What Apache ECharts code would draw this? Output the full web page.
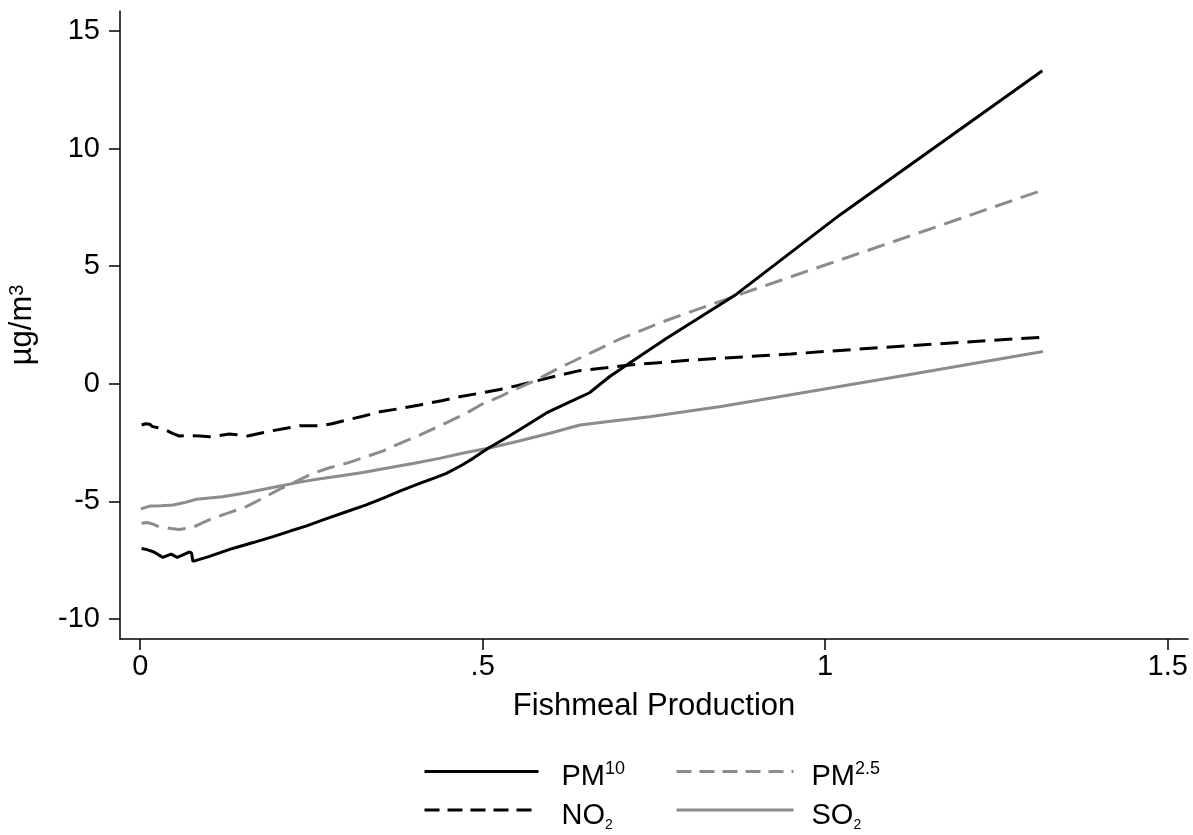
<!DOCTYPE html>
<html>
<head>
<meta charset="utf-8">
<title>Fishmeal Production</title>
<script src="https://cdn.jsdelivr.net/npm/echarts@6/dist/echarts.min.js"></script>
<style>
  html, body { margin: 0; padding: 0; background: #fff; }
  #main { width: 1193px; height: 835px; }
</style>
</head>
<body>
<div id="main"></div>
<script>
// ticks
var xTicks = [0, 0.5, 1, 1.5];
var yTicks = [-10, -5, 0, 5, 10, 15];

// [fishmeal production, µg/m3]
var pm10 = [
  [0.002, -7.00], [0.010, -7.05], [0.020, -7.15], [0.033, -7.38], [0.045, -7.24],
  [0.054, -7.38], [0.064, -7.25], [0.072, -7.15], [0.075, -7.20], [0.077, -7.55],
  [0.100, -7.35], [0.135, -7.00], [0.165, -6.75], [0.194, -6.50], [0.220, -6.25],
  [0.242, -6.05], [0.270, -5.75], [0.301, -5.44], [0.330, -5.15], [0.354, -4.87],
  [0.380, -4.55], [0.408, -4.23], [0.430, -4.00], [0.447, -3.81], [0.470, -3.45],
  [0.486, -3.17], [0.508, -2.74], [0.537, -2.25], [0.565, -1.75], [0.593, -1.24],
  [0.625, -0.80], [0.656, -0.38], [0.670, -0.05], [0.685, 0.30], [0.714, 0.87],
  [0.768, 1.93], [0.870, 3.80], [1.021, 7.17], [1.317, 13.31]
];
var pm25 = [
  [0.002, -5.93], [0.010, -5.90], [0.018, -5.96], [0.025, -6.05], [0.033, -6.10],
  [0.045, -6.15], [0.057, -6.19], [0.068, -6.15], [0.077, -6.10], [0.090, -5.92],
  [0.106, -5.72], [0.130, -5.48], [0.155, -5.22], [0.180, -4.85], [0.203, -4.49],
  [0.230, -4.12], [0.252, -3.81], [0.275, -3.58], [0.301, -3.38], [0.330, -3.10],
  [0.354, -2.86], [0.380, -2.52], [0.408, -2.18], [0.440, -1.75], [0.476, -1.25],
  [0.500, -0.85], [0.525, -0.55], [0.550, -0.20], [0.578, 0.16], [0.610, 0.65],
  [0.646, 1.15], [0.700, 1.90], [0.763, 2.64], [0.851, 3.55], [0.870, 3.75],
  [1.000, 5.05], [1.150, 6.55], [1.311, 8.17]
];
var no2 = [
  [0.002, -1.75], [0.008, -1.70], [0.014, -1.72], [0.018, -1.82], [0.028, -1.88],
  [0.038, -1.98], [0.048, -2.12], [0.057, -2.22], [0.070, -2.20], [0.087, -2.22],
  [0.101, -2.25], [0.115, -2.20], [0.130, -2.13], [0.145, -2.18], [0.157, -2.22],
  [0.175, -2.10], [0.194, -1.99], [0.215, -1.88], [0.233, -1.78], [0.262, -1.78],
  [0.280, -1.70], [0.301, -1.54], [0.325, -1.38], [0.350, -1.19], [0.380, -1.05],
  [0.408, -0.90], [0.440, -0.72], [0.466, -0.55], [0.500, -0.38], [0.525, -0.24],
  [0.550, -0.08], [0.578, 0.12], [0.610, 0.35], [0.640, 0.55], [0.680, 0.68],
  [0.715, 0.80], [0.800, 1.00], [0.950, 1.27], [1.100, 1.58], [1.316, 1.98]
];
var so2 = [
  [0.001, -5.32], [0.014, -5.20], [0.030, -5.18], [0.048, -5.15], [0.065, -5.05],
  [0.082, -4.91], [0.120, -4.80], [0.155, -4.63], [0.195, -4.40], [0.233, -4.18],
  [0.260, -4.05], [0.291, -3.92], [0.325, -3.77], [0.359, -3.59], [0.400, -3.38],
  [0.437, -3.17], [0.470, -2.95], [0.508, -2.74], [0.550, -2.45], [0.598, -2.10],
  [0.642, -1.75], [0.690, -1.58], [0.744, -1.40], [0.850, -0.95], [0.963, -0.40],
  [1.128, 0.42], [1.318, 1.37]
];

var black = '#000';
var grey = '#8c8c8c';
var font = '"Liberation Sans", Arial, Helvetica, sans-serif';

var myChart = echarts.init(document.getElementById('main'));

var legendRich = {
  b: { fontSize: 29, lineHeight: 34, fontFamily: font, color: black },
  sup: { fontSize: 18, lineHeight: 27, verticalAlign: 'top', fontFamily: font, color: black },
  sub: { fontSize: 14, lineHeight: 2, verticalAlign: 'bottom', fontFamily: font, color: black }
};
var legendLabels = {
  'PM10': '{b|PM}{sup|10}',
  'PM2.5': '{b|PM}{sup|2.5}',
  'NO2': '{b|NO}{sub|2}',
  'SO2': '{b|SO}{sub|2}'
};

// one legend per item so the two columns line up
function legendItem(name, left, top, width, padLeft, dash) {
  return {
    data: [name],
    left: left,
    top: top,
    padding: 0,
    itemWidth: width,
    itemHeight: 14,
    selectedMode: false,
    lineStyle: { type: dash, width: 3 },
    itemStyle: { opacity: 0 }, // hide the dot that line legends draw
    formatter: function (n) { return legendLabels[n]; },
    textStyle: { padding: [11, 0, 0, padLeft], rich: legendRich }
  };
}

var option = {
  animation: false,
  backgroundColor: '#fff',
  textStyle: { fontFamily: font },
  grid: { left: 120, right: 5, top: 11, bottom: 196, containLabel: false, outerBoundsMode: 'none' },
  legend: [
    legendItem('PM10', 423, 760, 114, 18, 'solid'),
    legendItem('NO2', 423, 801, 114, 18, [15, 8]),
    legendItem('PM2.5', 675, 760, 117, 13, [15, 8]),
    legendItem('SO2', 675, 801, 117, 13, 'solid')
  ],
  xAxis: {
    type: 'value',
    min: -0.0295,
    max: 1.5297,
    name: 'Fishmeal Production',
    nameLocation: 'middle',
    nameGap: 52,
    nameTextStyle: { fontSize: 31, color: black, fontFamily: font },
    axisLine: { show: true, onZero: false, lineStyle: { color: black, width: 1.5 } },
    axisTick: { show: true, length: 11, customValues: xTicks, lineStyle: { color: black, width: 1.5 } },
    axisLabel: {
      customValues: xTicks,
      margin: 13,
      fontSize: 29,
      color: black,
      fontFamily: font,
      formatter: function (v) { return String(v).replace(/^0\./, '.'); }
    },
    splitLine: { show: false }
  },
  yAxis: {
    type: 'value',
    min: -10.85,
    max: 15.85,
    name: 'µg/m{sup|3}',
    nameLocation: 'middle',
    nameGap: 82,
    nameTextStyle: {
      fontSize: 31, color: black, fontFamily: font,
      rich: {
        sup: { fontSize: 20, lineHeight: 29, verticalAlign: 'top', fontFamily: font, color: black }
      }
    },
    axisLine: { show: true, onZero: false, lineStyle: { color: black, width: 1.5 } },
    axisTick: { show: true, length: 11, customValues: yTicks, lineStyle: { color: black, width: 1.5 } },
    axisLabel: { customValues: yTicks, margin: 20, fontSize: 29, color: black, fontFamily: font },
    splitLine: { show: false }
  },
  series: [
    {
      name: 'NO2', type: 'line', data: no2, symbol: 'none',
      lineStyle: { color: black, width: 3, type: [18, 9] }, itemStyle: { color: black }
    },
    {
      name: 'SO2', type: 'line', data: so2, symbol: 'none',
      lineStyle: { color: grey, width: 3, type: 'solid' }, itemStyle: { color: grey }
    },
    {
      name: 'PM2.5', type: 'line', data: pm25, symbol: 'none',
      lineStyle: { color: grey, width: 3, type: [18, 9] }, itemStyle: { color: grey }
    },
    {
      name: 'PM10', type: 'line', data: pm10, symbol: 'none',
      lineStyle: { color: black, width: 3, type: 'solid' }, itemStyle: { color: black }
    }
  ]
};
myChart.setOption(option);
</script>
</body>
</html>
